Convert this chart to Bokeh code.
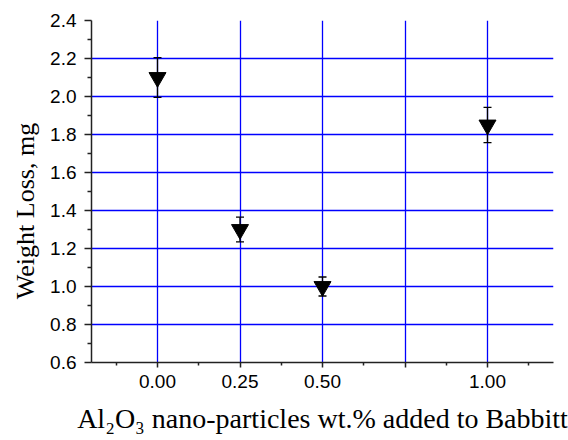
from bokeh.plotting import figure
from bokeh.models import (Range1d, FixedTicker, Whisker, TeeHead,
                          ColumnDataSource)
from bokeh.embed import file_html
from bokeh.resources import INLINE

# ---- data ----
wt_percent = [0.0, 0.25, 0.50, 1.00]
weight_loss = [2.10, 1.30, 1.00, 1.85]
loss_err = [0.105, 0.065, 0.05, 0.093]

x_ticks = [0.0, 0.25, 0.50, 0.75, 1.00]
x_tick_labels = ["0.00", "0.25", "0.50", "", "1.00"]
x_minor = [-0.125, 0.125, 0.375, 0.625, 0.875, 1.125]
y_ticks = [0.6, 0.8, 1.0, 1.2, 1.4, 1.6, 1.8, 2.0, 2.2, 2.4]
y_minor = [0.7, 0.9, 1.1, 1.3, 1.5, 1.7, 1.9, 2.1, 2.3]
y_grid = [0.8, 1.0, 1.2, 1.4, 1.6, 1.8, 2.0, 2.2]

x_title = "Al\u2082O\u2083 nano-particles wt.% added to Babbitt"
y_title = "Weight Loss, mg" + "\u00a0" * 6

src = ColumnDataSource(dict(
    x=wt_percent, y=weight_loss,
    upper=[v + e for v, e in zip(weight_loss, loss_err)],
    lower=[v - e for v, e in zip(weight_loss, loss_err)],
))

p = figure(width=568, height=440, output_backend="svg", toolbar_location=None,
           x_range=Range1d(-0.2, 1.2), y_range=Range1d(0.6, 2.4),
           min_border_left=91, min_border_top=20, min_border_right=15,
           min_border_bottom=78)
p.outline_line_color = None
p.background_fill_color = "white"
p.border_fill_color = "white"

# axes
for ax in (p.xaxis[0], p.yaxis[0]):
    ax.axis_line_color = "#222222"
    ax.axis_line_width = 1.5
    ax.major_tick_line_color = "#222222"
    ax.minor_tick_line_color = "#222222"
    ax.major_tick_line_width = 1.5
    ax.minor_tick_line_width = 1.5
    ax.major_tick_in = 0
    ax.minor_tick_in = 0
    ax.major_label_text_font = "Liberation Sans"
    ax.major_label_text_font_size = "19px"
    ax.major_label_text_color = "black"
    ax.axis_label_text_font = "Liberation Serif"
    ax.axis_label_text_font_style = "normal"
    ax.axis_label_text_color = "black"

p.xaxis.ticker = FixedTicker(ticks=x_ticks, minor_ticks=x_minor)
p.xaxis.major_label_overrides = {t: s for t, s in zip(x_ticks, x_tick_labels)}
p.xaxis.major_tick_out = 5
p.xaxis.minor_tick_out = 3
p.xaxis.major_label_standoff = 7
p.xaxis.axis_label = x_title
p.xaxis.axis_label_text_font_size = "28px"
p.xaxis.axis_label_standoff = 12

p.yaxis.ticker = FixedTicker(ticks=y_ticks, minor_ticks=y_minor)
p.yaxis.major_label_overrides = {t: f"{t:.1f}" for t in y_ticks}
p.yaxis.major_tick_out = 7
p.yaxis.minor_tick_out = 4
p.yaxis.major_label_standoff = 8
p.yaxis.axis_label = y_title
p.yaxis.axis_label_text_font_size = "26px"
p.yaxis.axis_label_standoff = 7

# grids
p.xgrid.ticker = FixedTicker(ticks=x_ticks)
p.ygrid.ticker = FixedTicker(ticks=y_grid)
for g in (p.xgrid[0], p.ygrid[0]):
    g.grid_line_color = "#0000ff"
    g.grid_line_width = 1.3
    g.grid_line_alpha = 1.0

# error bars
w = Whisker(source=src, base="x", upper="upper", lower="lower",
            dimension="height", line_color="black", line_width=1.3,
            upper_head=TeeHead(size=8, line_color="black", line_width=1.3),
            lower_head=TeeHead(size=8, line_color="black", line_width=1.3))
p.add_layout(w)

p.scatter("x", "y", source=src, marker="inverted_triangle", size=17,
          fill_color="black", line_color="black")

open("out.html", "w").write(file_html(p, INLINE))
